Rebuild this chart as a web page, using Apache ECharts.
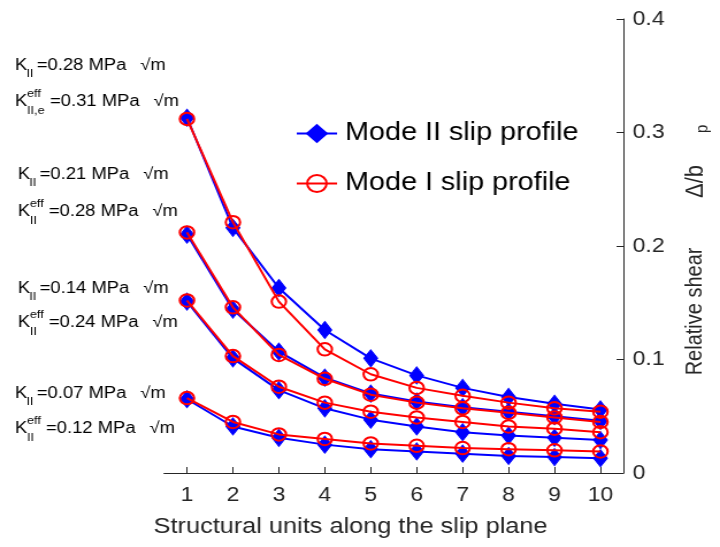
<!DOCTYPE html>
<html>
<head>
<meta charset="utf-8">
<script src="https://cdn.jsdelivr.net/npm/echarts@6/dist/echarts.min.js"></script>
<style>
  html, body { margin: 0; padding: 0; background: #fff; overflow: hidden; }
  /* The figure is laid out on a narrower canvas and widened to the page width,
     giving the horizontally stretched look of the original export. */
  #chart { width: 626px; height: 547px; transform: scaleX(1.1502); transform-origin: 0 0; }
</style>
</head>
<body>
<div id="chart"></div>
<script>
// Structural unit index along the slip plane
const units = ['1', '2', '3', '4', '5', '6', '7', '8', '9', '10'];

// Relative shear Δ/b_p, Mode II slip profile (one curve per applied K_II)
const modeII_028 = [0.313, 0.216, 0.163, 0.126, 0.101, 0.086, 0.075, 0.067, 0.061, 0.056];
const modeII_021 = [0.210, 0.144, 0.107, 0.084, 0.070, 0.063, 0.058, 0.054, 0.050, 0.046];
const modeII_014 = [0.151, 0.101, 0.073, 0.057, 0.047, 0.041, 0.036, 0.033, 0.031, 0.029];
const modeII_007 = [0.065, 0.041, 0.031, 0.025, 0.021, 0.019, 0.017, 0.015, 0.014, 0.013];

// Relative shear Δ/b_p, Mode I slip profile
const modeI_028 = [0.312, 0.221, 0.151, 0.109, 0.087, 0.075, 0.068, 0.062, 0.057, 0.054];
const modeI_021 = [0.212, 0.146, 0.104, 0.083, 0.069, 0.062, 0.057, 0.053, 0.049, 0.045];
const modeI_014 = [0.152, 0.103, 0.076, 0.062, 0.054, 0.049, 0.045, 0.041, 0.039, 0.036];
const modeI_007 = [0.066, 0.045, 0.034, 0.030, 0.026, 0.024, 0.022, 0.021, 0.020, 0.019];

// Applied and effective stress intensity factors (MPa √m)
const kII = ['0.28', '0.21', '0.14', '0.07'];
const kEff = ['0.31', '0.28', '0.24', '0.12'];
const kEffSub = ['II,e', 'II', 'II', 'II'];

const yTicks = [0, 0.1, 0.2, 0.3, 0.4];

const BLUE = '#0000ff';
const RED = '#ff0000';
const INK = '#262626';
const FONT = '"Liberation Sans", Arial, Helvetica, sans-serif';

const modeIISets = [modeII_028, modeII_021, modeII_014, modeII_007];
const modeISets = [modeI_028, modeI_021, modeI_014, modeI_007];

const series = [];
modeIISets.forEach(d => series.push({
  name: 'Mode II slip profile',
  type: 'line',
  data: d,
  symbol: 'diamond',
  symbolSize: [12, 17],
  lineStyle: { color: BLUE, width: 2 },
  itemStyle: { color: BLUE, borderColor: BLUE, borderWidth: 1 },
  z: 2
}));
modeISets.forEach(d => series.push({
  name: 'Mode I slip profile',
  type: 'line',
  data: d,
  symbol: 'circle',
  symbolSize: 12.5,
  lineStyle: { color: RED, width: 2 },
  itemStyle: { color: 'rgba(0,0,0,0)', borderColor: RED, borderWidth: 2 },
  z: 3
}));

// Stress-intensity annotations on the left
const line1Y = [66, 175, 289, 394];
const line2Y = [102, 212, 323, 429];
const annX = [13, 15.5, 15.5, 13];
const annFont = 16;
const subFont = 11;
const graphics = [];
function txt(x, y, s, size) {
  return {
    type: 'text', x: x, y: y,
    style: { text: s, font: size + 'px ' + FONT, fill: '#000', verticalAlign: 'middle', textVerticalAlign: 'middle' }
  };
}
kII.forEach((k, i) => {
  const x0 = annX[i];
  const m1 = 19;
  graphics.push({
    type: 'group', x: x0, y: line1Y[i],
    children: [
      txt(0, 0, 'K', annFont),
      txt(10, 8, 'II', subFont),
      txt(m1, 0, '=' + k + ' MPa', annFont),
      txt(m1 + 90, 0, '√m', annFont)
    ]
  });
  const sub = kEffSub[i];
  const m2 = sub === 'II,e' ? 30.5 : 27;
  graphics.push({
    type: 'group', x: x0, y: line2Y[i],
    children: [
      txt(0, 0, 'K', annFont),
      txt(10.5, -8, 'eff', subFont),
      txt(10.5, 9, sub, subFont),
      txt(m2, 0, '=' + kEff[i] + ' MPa', annFont),
      txt(m2 + 90, 0, '√m', annFont)
    ]
  });
});

const chart = echarts.init(document.getElementById('chart'));
chart.setOption({
  animation: false,
  backgroundColor: '#fff',
  grid: { left: 142.6, right: 83.5, top: 19, bottom: 74, containLabel: false },
  legend: {
    orient: 'vertical',
    left: 252,
    top: 116,
    itemWidth: 35,
    itemHeight: 21,
    itemGap: 25,
    data: ['Mode II slip profile', 'Mode I slip profile'],
    textStyle: { fontSize: 25, color: '#000', fontFamily: FONT, padding: [0, 0, 0, 2] }
  },
  xAxis: {
    type: 'category',
    data: units,
    boundaryGap: true,
    name: 'Structural units along the slip plane',
    nameLocation: 'middle',
    nameGap: 43,
    nameTextStyle: { fontSize: 22, color: INK, fontFamily: FONT, padding: [0, 75, 0, 0] },
    axisLine: { lineStyle: { color: INK, width: 1 } },
    axisTick: { show: true, inside: true, length: 6, alignWithLabel: true, lineStyle: { color: INK, width: 1 } },
    axisLabel: { fontSize: 20, color: INK, fontFamily: FONT, margin: 12 },
    splitLine: { show: false }
  },
  yAxis: {
    type: 'value',
    position: 'right',
    min: yTicks[0],
    max: yTicks[yTicks.length - 1],
    interval: 0.1,
    name: 'Relative shear        {d|Δ/b}{p|p}',
    nameLocation: 'middle',
    nameRotate: 90,
    nameGap: 49,
    nameTextStyle: {
      fontSize: 20, color: INK, fontFamily: FONT,
      padding: [0, 8, 0, 0],
      rich: {
        d: { fontSize: 22, color: INK, fontFamily: FONT, padding: [0, 0, 0, 5] },
        p: { fontSize: 15, color: INK, fontFamily: FONT, padding: [12, 0, 0, 32] }
      }
    },
    axisLine: { show: true, lineStyle: { color: INK, width: 1 } },
    axisTick: { show: true, inside: true, length: 6, lineStyle: { color: INK, width: 1 } },
    axisLabel: { fontSize: 20, color: INK, fontFamily: FONT, margin: 8 },
    splitLine: { show: false }
  },
  graphic: graphics,
  series: series
});
</script>
</body>
</html>
